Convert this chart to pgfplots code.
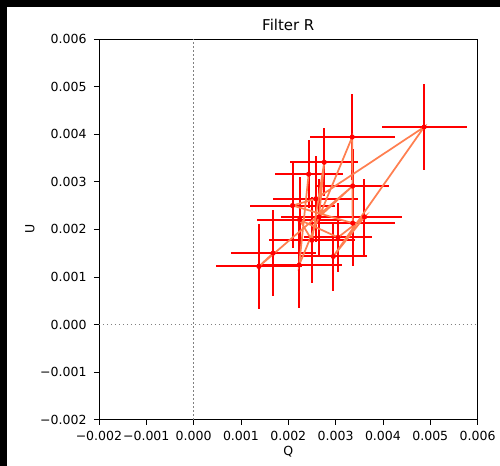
\documentclass[border=0pt]{standalone}
\usepackage{fontspec}
\setmainfont{DejaVu Sans}
\usepackage{pgfplots}
\pgfplotsset{compat=1.18}
\usepackage{pgfplotstable}
\definecolor{coral}{HTML}{FF7F50}

\pgfplotstableread{
Q U e
0.00168 0.00150 0.0009
0.00138 0.00122 0.0009
0.00336 0.00291 0.00077
0.00265 0.00226 0.0008
0.00276 0.00341 0.00072
0.00250 0.00177 0.0009
0.00224 0.00220 0.0009
0.00305 0.00183 0.00072
0.00361 0.00226 0.0008
0.00295 0.00143 0.00072
0.00487 0.00415 0.0009
0.00258 0.00264 0.0009
0.00209 0.00250 0.0009
0.00336 0.00213 0.0009
0.00335 0.00394 0.0009
0.00223 0.00125 0.0009
0.00243 0.00316 0.00072
}\data

\begin{document}
\begin{tikzpicture}
\fill[black] (-74.25pt,-34.5pt) rectangle (300.75pt,315pt);
\fill[white] (-69pt,-34.5pt) rectangle (300.75pt,309.75pt);
\begin{axis}[
  at={(0,0)}, anchor=south west,
  scale only axis, width=284.25pt, height=285.75pt,
  xmin=-0.002, xmax=0.006, ymin=-0.002, ymax=0.006,
  xtick={-0.002,-0.001,0,0.001,0.002,0.003,0.004,0.005,0.006},
  ytick={-0.002,-0.001,0,0.001,0.002,0.003,0.004,0.005,0.006},
  xticklabels={−0.002,−0.001,0.000,0.001,0.002,0.003,0.004,0.005,0.006},
  yticklabels={−0.002,−0.001,0.000,0.001,0.002,0.003,0.004,0.005,0.006},
  scaled ticks=false,
  tick align=outside, xtick pos=bottom, ytick pos=left,
  major tick length=3.75pt,
  tick style={black, line width=0.6pt},
  axis line style={line width=0.6pt},
  ticklabel style={font=\fontsize{9.4}{11}\selectfont},
  yticklabel style={xshift=-2pt},
  xticklabel style={yshift=-1pt},
  label style={font=\fontsize{9.4}{11}\selectfont},
  xlabel={Q}, ylabel={U},
  xlabel style={at={(axis description cs:0.5,0)}, anchor=center, yshift=-24pt},
  ylabel style={at={(axis description cs:0,0.5)}, anchor=center, yshift=51.75pt},
  title={Filter R},
  title style={font=\fontsize{11.2}{13}\selectfont, at={(axis description cs:0.5,1)}, anchor=center, yshift=4.5pt},
  clip=false,
]
\addplot[gray, line width=1.1pt, dash pattern=on 1.1pt off 1.9pt] coordinates {(0,-0.002) (0,0.006)};
\addplot[gray, line width=1.1pt, dash pattern=on 1.1pt off 1.9pt] coordinates {(-0.002,0) (0.006,0)};
\addplot[draw=none, mark=none,
  error bars/.cd, x dir=both, x explicit, y dir=both, y explicit,
  error bar style={red, line width=1.5pt}, error mark=none]
  table[x=Q, y=U, x error=e, y error=e] {\data};
\addplot[coral, line width=1.3pt, mark=none] table[x=Q, y=U] {\data};
\addplot[only marks, mark=*, mark size=1.7pt, red] table[x=Q, y=U] {\data};
\end{axis}
\end{tikzpicture}
\end{document}
